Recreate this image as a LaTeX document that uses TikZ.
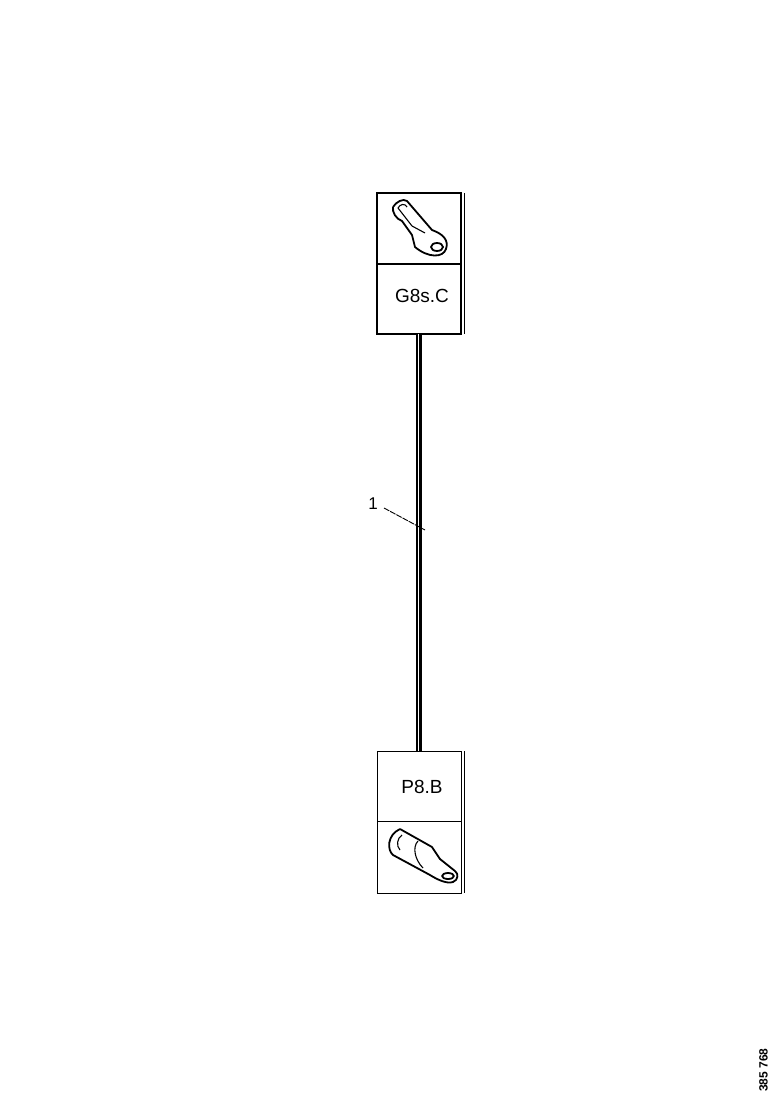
\documentclass[tikz,border=0pt]{standalone}
\usepackage{fontspec}
\setmainfont{Liberation Sans}
\tikzset{
    lugbox/.style={draw=black, minimum width=84pt, inner sep=0pt, outer sep=0pt},
    tagtext/.style={font=\fontsize{19}{19}\selectfont, inner sep=0pt},
    lugline/.style={draw=black, line width=1.8pt, line join=round},
    lugthin/.style={draw=black, line width=1.1pt, line join=round},
    wireline/.style={draw=black, line width=6pt},
    wiregap/.style={draw=white, line width=1pt},
    leader/.style={draw=black, line width=0.9pt, dash pattern=on 6pt off 1pt}
}
\begin{document}
\begin{tikzpicture}[x=1pt, y=-1pt]
            \useasboundingbox (0,0) rectangle (778,1100);
            \node[lugbox, line width=1.8pt, minimum height=71pt] (gicon) at (419, 228.5) {};
            \node[lugbox, line width=1.8pt, minimum height=70pt] (gbox)  at (419, 299.0) {};
            \node[lugbox, line width=1.0pt, minimum height=70pt] (pbox)  at (419, 786.0) {};
            \node[lugbox, line width=1.0pt, minimum height=72pt] (picon) at (419, 857.0) {};
            \node[tagtext] (gtag) at (422, 296) {G8s.C};
            \node[tagtext] (ptag) at (422, 787) {P8.B};
            \draw[black, line width=2.5pt] (gicon.north west) -- (gbox.south west);
            \draw[black, line width=1pt]   ([xshift=3pt]gicon.north east) -- ([xshift=3pt]gbox.south east);
            \draw[black, line width=1pt]   ([xshift=3pt]pbox.north east) -- ([xshift=3pt]picon.south east);
            \coordinate (gwire) at (419, 334);
            \coordinate (pwire) at (419, 751);
            \draw[wireline] (gwire) -- (pwire);
            \draw[wiregap]  ([xshift=-0.5pt]gwire) -- ([xshift=-0.5pt]pwire);
            % lug of the upper terminal
            \draw[lugline] (393,207) .. controls (396,202) and (403,198) .. (407,201) -- (432,230) .. controls (443,234) and (449,240) .. (446,249) .. controls (443,258) and (428,258) .. (415,247) -- (412,235) -- (402,221) .. controls (396,219) and (392,212) .. (393,207);
            \draw[lugthin] (398,208) .. controls (400,204) and (405,203) .. (407,207);
            \draw[lugthin] (398,208) -- (412,226) -- (425,233);
            \draw[lugline] (437,247) ellipse (6pt and 4pt);
            % lug of the lower terminal
            \draw[lugline] (400,829) -- (432,847) -- (440,859) -- (455,871) .. controls (459,874) and (458,880) .. (453,882) .. controls (447,884) and (438,880) .. (430,875) -- (393,855) .. controls (387,850) and (387,835) .. (400,829);
            \draw[lugthin] (402,835) .. controls (397,838) and (396,846) .. (400,850);
            \draw[lugthin] (418,841) .. controls (412,847) and (415,860) .. (423,868);
            \draw[lugline] (448,876) ellipse (6pt and 3pt);
            % wire number with its leader
            \node[font=\fontsize{17}{17}\selectfont, inner sep=0pt] (wirenum) at (373, 504) {1};
            \coordinate (wiretap) at (425, 530);
            \draw[leader] (384, 508) -- (wiretap);
            % drawing number
            \node[font=\fontsize{12}{12}\selectfont\bfseries, rotate=90, inner sep=0pt] (drawno) at (763.5, 1070) {385 768};
            \end{tikzpicture}
\end{document}
